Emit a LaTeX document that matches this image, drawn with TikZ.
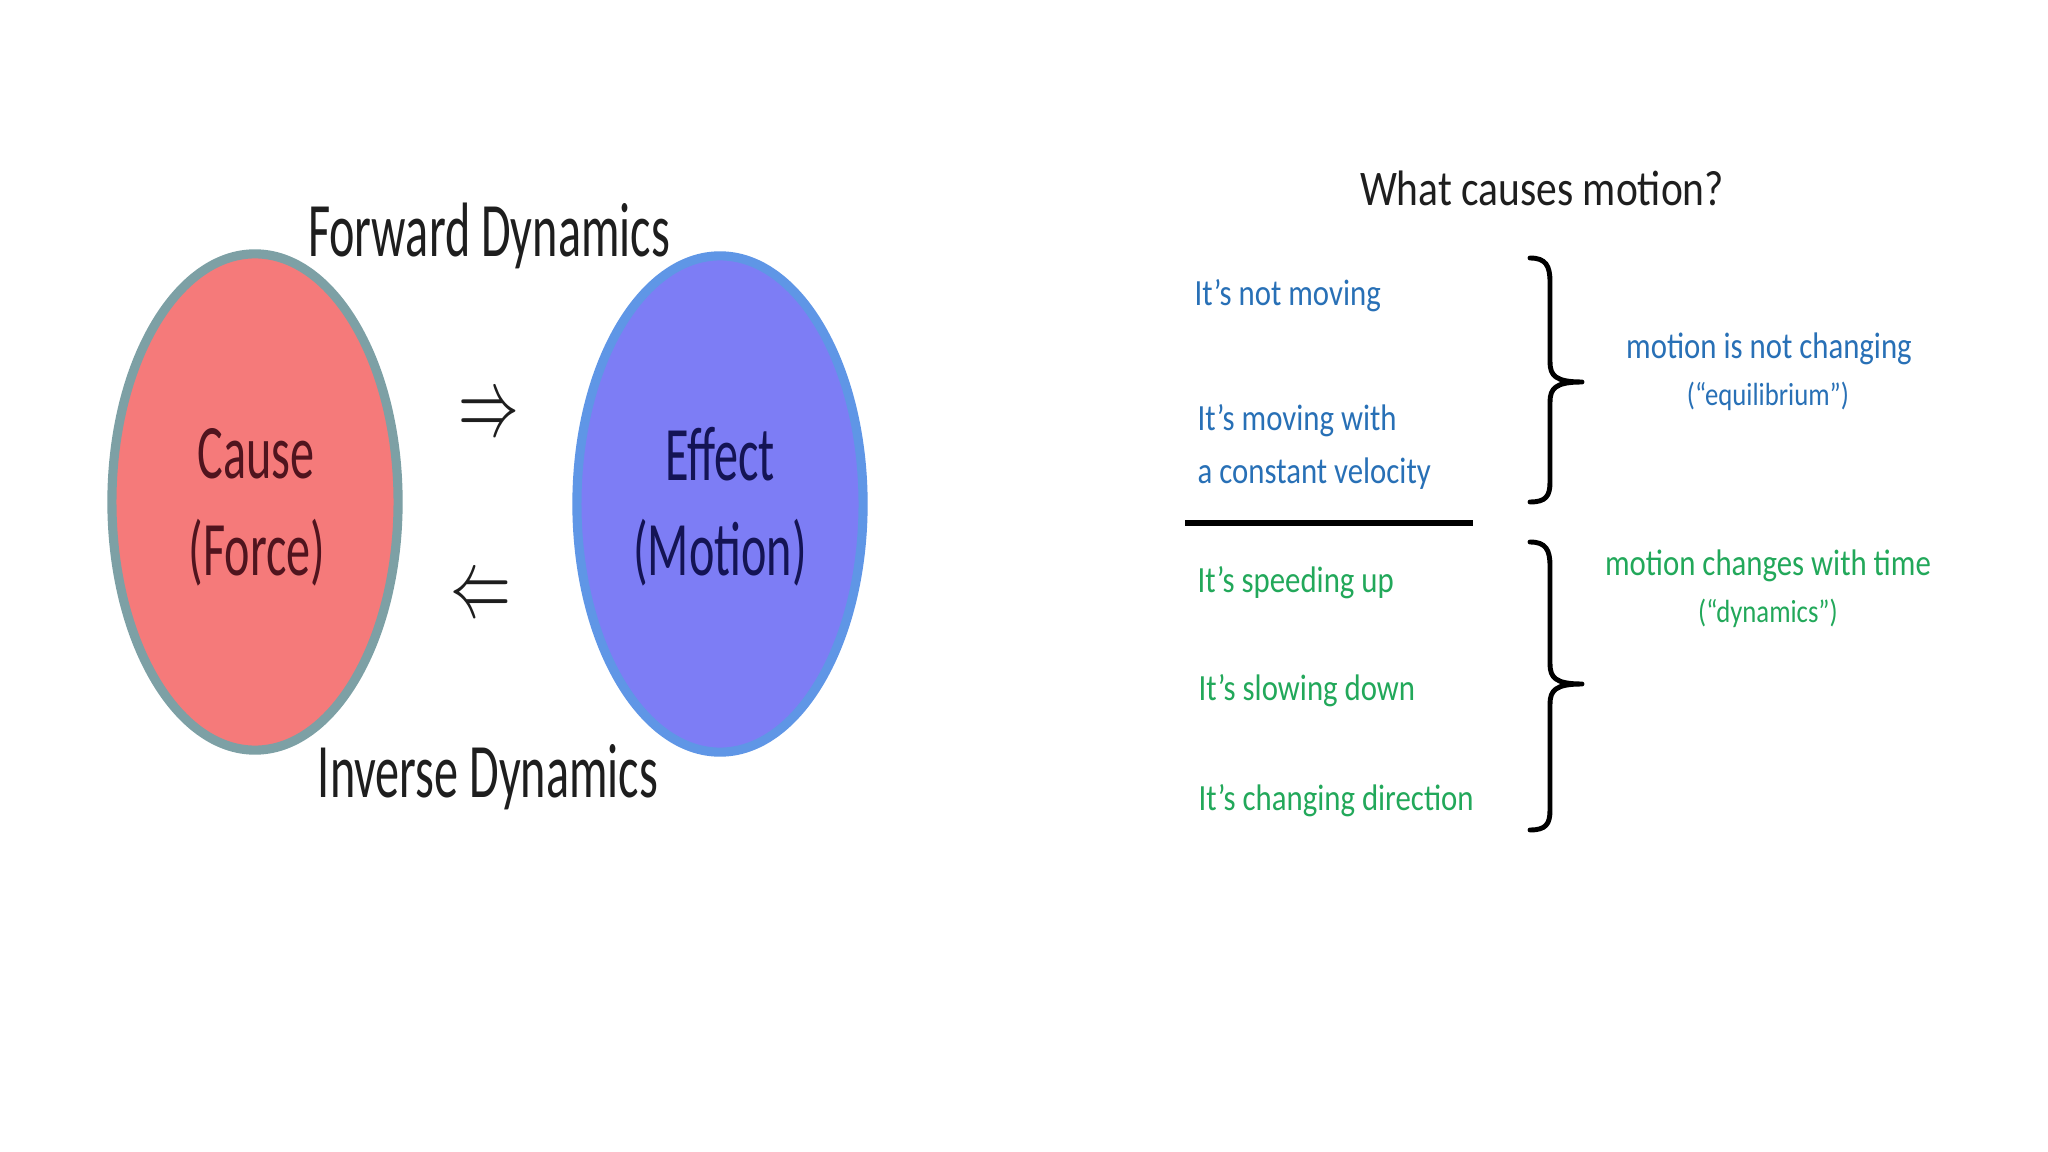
\documentclass[tikz,border=0pt]{standalone}
\usepackage{fontspec}
\setmainfont{Carlito}
\usepackage{graphicx}
\usetikzlibrary{shapes.geometric}
\definecolor{redfill}{RGB}{245,122,122}
\definecolor{redborder}{RGB}{125,160,165}
\definecolor{bluefill}{RGB}{125,125,245}
\definecolor{blueborder}{RGB}{95,150,230}
\definecolor{causetxt}{RGB}{80,20,30}
\definecolor{effecttxt}{RGB}{20,20,85}
\definecolor{dyntxt}{RGB}{30,30,30}
\definecolor{txtblue}{RGB}{40,112,182}
\definecolor{txtgreen}{RGB}{34,168,90}
\newcommand{\stretchL}[1]{\scalebox{1}[1.6]{#1}}
\newcommand{\stretchR}[1]{\scalebox{1}[1.2]{#1}}
\begin{document}
\begin{tikzpicture}[x=0.01cm,y=-0.01cm,
  blob/.style={ellipse, inner sep=0pt, line width=2.6pt, minimum width=2.86cm, minimum height=4.96cm},
  bigtxt/.style={inner sep=0pt, font=\fontsize{13.7}{16}\selectfont},
  arrtxt/.style={inner sep=0pt, font=\fontsize{16.5}{19}\selectfont, text=dyntxt},
  listtxt/.style={inner sep=0pt, anchor=west, font=\fontsize{8.76}{10.5}\selectfont},
  sidetxt/.style={inner sep=0pt, font=\fontsize{8.76}{10.5}\selectfont},
  smalltxt/.style={inner sep=0pt, font=\fontsize{7.6}{9}\selectfont},
  bracestroke/.style={line width=1.4pt, line cap=round, line join=round}
]
\useasboundingbox (0,0) rectangle (2048,1152);
\fill[white] (0,0) rectangle (2048,1152);

% left diagram
\node[blob, draw=redborder, fill=redfill] (cause) at (255,502) {};
\node[blob, draw=blueborder, fill=bluefill] (effect) at (720,504) {};
\node[bigtxt, text=causetxt] (causeA) at (256,454) {\stretchL{Cause}};
\node[bigtxt, text=causetxt] (causeB) at (257,553) {\stretchL{(Force)}};
\node[bigtxt, text=effecttxt] (effectA) at (720,454) {\stretchL{Effect}};
\node[bigtxt, text=effecttxt] (effectB) at (720,553) {\stretchL{(Motion)}};
\node[bigtxt, text=dyntxt] (fwd) at (489,236) {\stretchL{Forward Dynamics}};
\node[bigtxt, text=dyntxt] (inv) at (488,777) {\stretchL{Inverse Dynamics}};
\node[arrtxt] (rarr) at (489,418) {\stretchL{$\Rightarrow$}};
\node[arrtxt] (larr) at (481,599) {\stretchL{$\Leftarrow$}};

% right diagram
\node[inner sep=0pt, font=\fontsize{11.8}{14}\selectfont, text=dyntxt] (title) at (1542,188) {\stretchR{What causes motion?}};
\node[listtxt, text=txtblue] (l1) at (1194,296) {\stretchR{It’s not moving}};
\node[listtxt, text=txtblue] (l2) at (1197,421) {\stretchR{It’s moving with}};
\node[listtxt, text=txtblue] (l3) at (1197,474) {\stretchR{a constant velocity}};
\node[listtxt, text=txtgreen] (l4) at (1197,583) {\stretchR{It’s speeding up}};
\node[listtxt, text=txtgreen] (l5) at (1198,691) {\stretchR{It’s slowing down}};
\node[listtxt, text=txtgreen] (l6) at (1198,801) {\stretchR{It’s changing direction}};
\draw[line width=1.5pt] (1185,523) -- (1473,523);

\node[sidetxt, text=txtblue] (s1) at (1769,349) {\stretchR{motion is not changing}};
\node[smalltxt, text=txtblue] (s2) at (1768,396) {\stretchR{(“equilibrium”)}};
\node[sidetxt, text=txtgreen] (s3) at (1768,566) {\stretchR{motion changes with time}};
\node[smalltxt, text=txtgreen] (s4) at (1768,613) {\stretchR{(“dynamics”)}};

% braces
\draw[bracestroke] (1530,258) .. controls (1546,258) and (1550,266) .. (1550,282)
  -- (1550,362) .. controls (1550,376) and (1556,382) .. (1582,382)
  .. controls (1556,382) and (1550,388) .. (1550,402)
  -- (1550,482) .. controls (1550,496) and (1546,502) .. (1530,502);
\draw[bracestroke] (1530,542) .. controls (1546,542) and (1550,550) .. (1550,566)
  -- (1550,664) .. controls (1550,678) and (1556,684) .. (1582,684)
  .. controls (1556,684) and (1550,690) .. (1550,704)
  -- (1550,810) .. controls (1550,824) and (1546,830) .. (1530,830);
\end{tikzpicture}
\end{document}
